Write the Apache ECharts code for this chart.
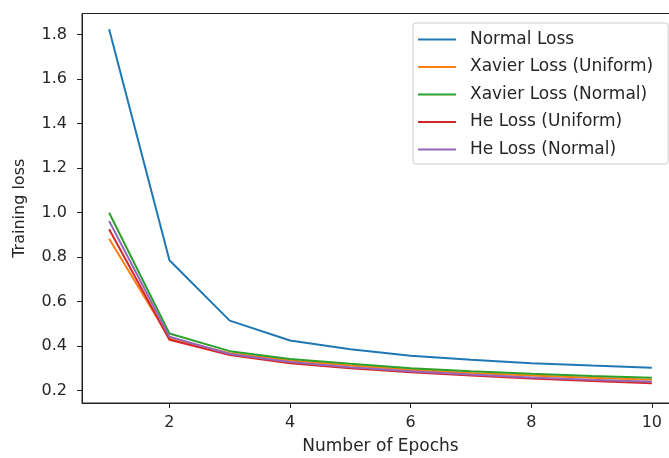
<!DOCTYPE html>
<html>
<head>
<meta charset="utf-8">
<script src="https://cdn.jsdelivr.net/npm/echarts@6/dist/echarts.min.js"></script>
<style>
  html, body { margin: 0; padding: 0; background: #fff; }
  #chart { width: 669px; height: 458px; }
</style>
</head>
<body>
<div id="chart"></div>
<script>
// training loss per epoch
var epochs = [1, 2, 3, 4, 5, 6, 7, 8, 9, 10];
var normalLoss        = [1.823, 0.785, 0.514, 0.425, 0.386, 0.356, 0.338, 0.323, 0.312, 0.302];
var xavierUniformLoss = [0.882, 0.435, 0.368, 0.335, 0.313, 0.293, 0.279, 0.267, 0.257, 0.249];
var xavierNormalLoss  = [0.999, 0.456, 0.377, 0.342, 0.320, 0.300, 0.287, 0.275, 0.265, 0.257];
var heUniformLoss     = [0.925, 0.428, 0.360, 0.323, 0.300, 0.282, 0.267, 0.254, 0.243, 0.233];
var heNormalLoss      = [0.962, 0.442, 0.364, 0.328, 0.305, 0.287, 0.272, 0.259, 0.248, 0.239];

var xTicks = [2, 4, 6, 8, 10];
var yTicks = [0.2, 0.4, 0.6, 0.8, 1.0, 1.2, 1.4, 1.6, 1.8];

var seriesNames = ['Normal Loss', 'Xavier Loss (Uniform)', 'Xavier Loss (Normal)', 'He Loss (Uniform)', 'He Loss (Normal)'];
var seriesData = [normalLoss, xavierUniformLoss, xavierNormalLoss, heUniformLoss, heNormalLoss];
var colors = ['#1f77b4', '#ff7f0e', '#2ca02c', '#d62728', '#9467bd'];

function pairs(vals) {
  var out = [];
  for (var i = 0; i < epochs.length; ++i) {
    out.push([epochs[i], vals[i]]);
  }
  return out;
}

var fontFam = 'DejaVu Sans';
var txtColor = '#262626';

var mychart = echarts.init(document.getElementById('chart'));

var series = [];
for (var i = 0; i < seriesNames.length; ++i) {
  series.push({
    name: seriesNames[i],
    type: 'line',
    data: pairs(seriesData[i]),
    symbol: 'none',
    animation: false,
    lineStyle: { width: 2, color: colors[i] },
    itemStyle: { color: colors[i] }
  });
}

var option = {
  backgroundColor: '#fff',
  animation: false,
  color: colors,
  grid: {
    // right spine sits just past the canvas edge, like the cropped original
    left: 82,
    width: 597,
    top: 13.5,
    height: 389.5,
    containLabel: false,
    outerBoundsMode: 'none',
    show: true,
    borderColor: '#222',
    borderWidth: 1,
    backgroundColor: 'transparent'
  },
  legend: {
    orient: 'vertical',
    left: 413,
    top: 23,
    padding: [8, 15, 6, 5],
    itemWidth: 38,
    itemHeight: 2,
    itemGap: 10.5,
    icon: 'rect',
    backgroundColor: '#fff',
    borderColor: '#cccccc',
    borderWidth: 1,
    borderRadius: 3,
    textStyle: { fontFamily: fontFam, fontSize: 17, color: txtColor, lineHeight: 16, padding: [0, 0, 0, 9] },
    data: seriesNames
  },
  xAxis: {
    type: 'value',
    min: 0.55,
    max: 10.45,
    name: 'Number of Epochs',
    nameLocation: 'middle',
    nameGap: 35,
    nameTextStyle: { fontFamily: fontFam, fontSize: 17, color: txtColor },
    axisLine: { show: true, lineStyle: { color: '#222', width: 1 } },
    axisTick: { show: true, inside: false, length: 5, customValues: xTicks, lineStyle: { color: '#222' } },
    axisLabel: { customValues: xTicks, margin: 12, fontFamily: fontFam, fontSize: 16, color: txtColor },
    splitLine: { show: false }
  },
  yAxis: {
    type: 'value',
    min: 0.144,
    max: 1.894,
    name: 'Training loss',
    nameLocation: 'middle',
    nameGap: 54,
    nameTextStyle: { fontFamily: fontFam, fontSize: 16, color: txtColor },
    axisLine: { show: true, lineStyle: { color: '#222', width: 1 } },
    axisTick: { show: true, inside: false, length: 5, customValues: yTicks, lineStyle: { color: '#222' } },
    axisLabel: {
      customValues: yTicks,
      margin: 15,
      fontFamily: fontFam,
      fontSize: 16,
      color: txtColor,
      formatter: function (v) { return v.toFixed(1); }
    },
    splitLine: { show: false }
  },
  series: series
};

mychart.setOption(option);
</script>
</body>
</html>
